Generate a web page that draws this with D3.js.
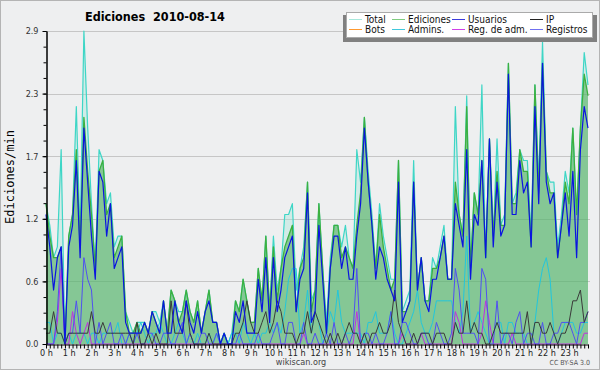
<!DOCTYPE html>
<html lang="es">
<head>
<meta charset="utf-8">
<title>Ediciones 2010-08-14</title>
<script src="https://cdn.jsdelivr.net/npm/d3@7"></script>
<style type="text/css">
  body { margin: 0; background: #fff; }
  svg { display: block; }
  text { font-family: "DejaVu Sans Condensed", "DejaVu Sans", sans-serif; }
</style>
</head>
<body>
<script type="text/javascript">
// Values per 10 minutes (edits/min), 144 points = 24 h
var hourLabels = ["0 h","1 h","2 h","3 h","4 h","5 h","6 h","7 h","8 h","9 h","10 h","11 h",
                  "12 h","13 h","14 h","15 h","16 h","17 h","18 h","19 h","20 h","21 h","22 h","23 h"];
var yTicks = [0, 0.58, 1.16, 1.74, 2.32, 2.9];
var yLabels = ["0.0", "0.6", "1.2", "1.7", "2.3", "2.9"];

var total = [
  1.3,1.1,0.8,0.9,1.8,0.0,1.0,1.2,2.2,1.0,2.9,2.0,
  1.3,0.7,1.8,1.7,1.3,1.4,0.9,1.0,1.0,0.3,0.2,0.1,
  0.2,0.2,0.2,0.1,0.3,0.3,0.2,0.4,0.1,0.5,0.4,0.3,
  0.3,0.5,0.3,0.2,0.4,0.1,0.3,0.5,0.2,0.2,0.0,0.1,
  0.0,0.1,0.4,0.3,0.6,0.4,0.2,0.2,0.7,0.4,1.0,0.3,
  1.0,0.5,0.7,1.2,1.2,1.3,0.5,0.7,0.9,1.5,0.4,0.5,
  1.3,0.7,0.2,0.8,1.1,1.1,0.9,1.1,0.8,0.7,1.8,1.5,
  2.1,1.6,1.2,0.7,1.3,1.0,0.8,0.6,0.6,1.7,0.3,0.4,
  0.5,1.7,0.5,0.8,0.4,0.4,0.8,0.7,0.9,1.1,0.6,0.6,
  2.2,1.2,1.0,2.3,0.7,1.4,1.2,2.4,0.8,1.9,1.0,1.9,
  1.1,1.2,2.6,1.3,1.4,1.8,1.7,1.7,1.0,2.4,1.5,2.8,
  1.6,1.5,1.5,0.9,1.2,1.6,1.4,2.0,1.2,2.0,2.7,2.4];
var ediciones = [
  1.3,1.0,0.8,0.8,0.9,0.0,1.0,1.2,1.8,0.9,2.1,1.6,
  1.2,0.7,1.6,1.7,1.2,1.3,0.8,0.9,1.0,0.3,0.1,0.1,
  0.2,0.1,0.2,0.1,0.3,0.2,0.1,0.4,0.1,0.5,0.4,0.2,
  0.3,0.5,0.3,0.2,0.4,0.1,0.3,0.5,0.2,0.2,0.0,0.1,
  0.0,0.0,0.4,0.3,0.6,0.4,0.2,0.2,0.7,0.4,1.0,0.3,
  0.9,0.4,0.7,0.9,1.0,1.1,0.3,0.7,0.8,1.5,0.3,0.5,
  1.3,0.7,0.1,0.7,1.1,1.1,0.8,0.9,0.8,0.7,1.1,1.4,
  2.1,1.5,1.1,0.7,1.2,0.9,0.7,0.5,0.6,1.7,0.3,0.3,
  0.4,1.5,0.5,0.8,0.4,0.4,0.7,0.7,0.8,1.0,0.6,0.6,
  1.5,1.2,1.0,2.2,0.7,1.4,1.2,1.7,0.8,1.9,1.0,1.6,
  1.1,1.1,2.6,1.3,1.3,1.8,1.6,1.6,0.9,2.4,1.4,2.6,
  1.6,1.4,1.4,0.8,1.1,1.5,1.3,2.0,1.2,2.0,2.5,2.3];
var usuarios = [
  1.2,0.9,0.5,0.8,0.9,0.0,0.9,1.1,1.7,0.8,2.0,1.5,
  1.0,0.6,1.6,1.5,1.0,1.3,0.7,0.8,0.9,0.2,0.1,0.1,
  0.1,0.1,0.2,0.1,0.3,0.2,0.1,0.4,0.1,0.1,0.4,0.2,
  0.1,0.4,0.2,0.1,0.3,0.1,0.3,0.4,0.2,0.2,0.0,0.1,
  0.0,0.0,0.3,0.2,0.4,0.1,0.1,0.1,0.6,0.3,0.8,0.2,
  0.8,0.3,0.5,0.8,0.9,1.0,0.3,0.6,0.7,1.4,0.2,0.3,
  1.1,0.6,0.1,0.7,1.0,1.0,0.7,0.9,0.6,0.6,1.0,1.3,
  2.0,1.5,1.1,0.6,0.9,0.8,0.6,0.5,0.4,1.5,0.2,0.3,
  0.4,1.5,0.5,0.8,0.4,0.3,0.6,0.6,0.8,1.0,0.6,0.6,
  1.3,1.1,0.9,1.8,0.6,1.2,1.1,1.7,0.8,1.9,0.9,1.5,
  1.0,1.1,2.5,1.2,1.2,1.7,1.4,1.5,0.9,2.2,1.3,2.6,
  1.5,1.3,1.4,0.8,1.1,1.4,1.0,1.6,0.8,1.8,2.2,2.0];
var ip = [
  0.1,0.1,0.3,0.1,0.1,0.0,0.1,0.1,0.1,0.1,0.1,0.1,
  0.3,0.1,0.1,0.2,0.1,0.1,0.1,0.1,0.1,0.1,0.1,0.0,
  0.2,0.0,0.0,0.1,0.0,0.1,0.0,0.0,0.0,0.4,0.1,0.1,
  0.1,0.4,0.1,0.0,0.0,0.0,0.0,0.1,0.0,0.0,0.0,0.0,
  0.0,0.0,0.1,0.1,0.2,0.4,0.2,0.1,0.1,0.2,0.3,0.1,
  0.2,0.4,0.3,0.1,0.1,0.1,0.0,0.1,0.1,0.3,0.1,0.3,
  0.2,0.1,0.0,0.1,0.0,0.1,0.0,0.1,0.2,0.1,0.1,0.0,
  0.1,0.0,0.1,0.1,0.2,0.1,0.1,0.2,0.5,0.2,0.1,0.0,
  0.0,0.1,0.0,0.1,0.1,0.1,0.0,0.1,0.1,0.1,0.0,0.0,
  0.2,0.1,0.1,0.4,0.1,0.2,0.1,0.1,0.0,0.0,0.1,0.2,
  0.1,0.1,0.1,0.1,0.1,0.1,0.1,0.3,0.0,0.2,0.2,0.1,
  0.1,0.2,0.1,0.0,0.1,0.1,0.2,0.4,0.4,0.5,0.2,0.3];
var admins = [
  0.2,0.2,0.0,0.1,0.1,0.0,0.1,0.0,0.1,0.1,0.1,0.0,
  0.1,0.1,0.0,0.1,0.1,0.1,0.1,0.2,0.0,0.0,0.1,0.0,
  0.1,0.2,0.1,0.0,0.1,0.1,0.2,0.1,0.0,0.0,0.1,0.2,
  0.1,0.0,0.1,0.0,0.1,0.0,0.0,0.1,0.0,0.1,0.0,0.1,
  0.0,0.1,0.1,0.0,0.2,0.1,0.0,0.1,0.0,0.1,0.1,0.2,
  0.1,0.2,0.1,0.3,0.6,0.7,0.7,0.1,0.2,0.5,0.1,0.3,
  0.2,0.0,0.1,0.3,0.2,0.5,0.2,0.1,0.1,0.1,0.1,0.1,
  0.0,0.2,0.2,0.3,0.1,0.1,0.1,0.3,0.1,0.0,0.0,0.1,
  0.2,0.3,0.5,0.2,0.1,0.1,0.2,0.4,0.4,0.4,0.4,0.4,
  0.2,0.1,0.3,1.0,0.1,0.2,0.3,0.2,0.1,0.0,0.1,0.2,
  0.2,0.0,0.2,0.2,0.1,0.1,0.1,0.0,0.0,0.2,0.5,0.7,
  0.8,0.6,0.1,0.0,0.1,0.2,0.2,0.2,0.1,0.1,0.2,0.2];
var regAdm = [
  0.0,0.0,0.0,0.2,0.7,0.0,0.0,0.3,0.1,0.0,0.1,0.2,
  0.0,0.0,0.0,0.0,0.0,0.0,0.0,0.0,0.0,0.0,0.0,0.0,
  0.0,0.0,0.0,0.0,0.0,0.0,0.0,0.0,0.0,0.0,0.0,0.0,
  0.0,0.0,0.0,0.0,0.0,0.0,0.0,0.0,0.0,0.0,0.0,0.0,
  0.0,0.0,0.0,0.0,0.0,0.0,0.0,0.0,0.0,0.0,0.0,0.0,
  0.0,0.0,0.0,0.0,0.0,0.0,0.0,0.0,0.1,0.0,0.0,0.0,
  0.0,0.0,0.0,0.0,0.0,0.0,0.0,0.0,0.0,0.0,0.3,0.0,
  0.0,0.0,0.0,0.0,0.0,0.0,0.0,0.0,0.0,0.0,0.1,0.0,
  0.0,0.0,0.0,0.1,0.0,0.0,0.0,0.0,0.0,0.0,0.0,0.0,
  0.3,0.2,0.0,0.0,0.0,0.0,0.0,0.1,0.4,0.2,0.0,0.0,
  0.0,0.0,0.0,0.1,0.0,0.0,0.0,0.0,0.0,0.0,0.0,0.0,
  0.0,0.0,0.0,0.0,0.0,0.0,0.0,0.0,0.0,0.0,0.1,0.1];
var registros = [
  0.0,0.0,0.0,0.3,0.9,0.0,0.1,0.1,0.4,0.1,0.8,0.6,
  0.5,0.0,0.2,0.0,0.1,0.2,0.0,0.0,0.1,0.0,0.1,0.0,
  0.1,0.0,0.0,0.1,0.1,0.0,0.0,0.1,0.1,0.0,0.0,0.1,
  0.2,0.0,0.1,0.0,0.0,0.1,0.1,0.0,0.0,0.1,0.0,0.0,
  0.0,0.0,0.0,0.1,0.0,0.0,0.0,0.0,0.1,0.0,0.0,0.0,
  0.1,0.2,0.0,0.0,0.2,0.2,0.0,0.0,0.2,0.0,0.0,0.1,
  0.0,0.0,0.1,0.0,0.2,0.0,0.0,0.1,0.0,0.1,0.7,0.0,
  0.1,0.1,0.0,0.1,0.0,0.0,0.1,0.3,0.0,0.0,0.2,0.2,
  0.1,0.0,0.0,0.1,0.1,0.0,0.0,0.2,0.1,0.0,0.0,0.1,
  0.7,0.5,0.1,0.1,0.1,0.1,0.0,0.7,0.6,0.0,0.0,0.4,
  0.0,0.1,0.1,0.0,0.2,0.3,0.0,0.1,0.1,0.0,0.0,0.2,
  0.0,0.0,0.1,0.1,0.2,0.2,0.2,0.1,0.0,0.2,0.2,0.3];

// legend, 2 rows x 4 columns
var legendNames = ["Total", "Ediciones", "Usuarios", "IP", "Bots", "Admins.", "Reg. de adm.", "Registros"];
var legendColors = ["#a8e8dc", "#80cc80", "#3c3cdc", "#222222", "#ff9a30", "#40c8dc", "#d040e8", "#7070f0"];

var width = 600;
var height = 370;

var x = d3.scaleLinear().domain([0, total.length - 1]).range([46, 588]);
var y = d3.scaleLinear().domain([0, 2.9]).range([344, 31]);

var svg = d3.select("body").append("svg")
    .attr("width", width)
    .attr("height", height);

// background + frame
svg.append("rect")
    .attr("x", 0.5).attr("y", 0.5)
    .attr("width", width - 1).attr("height", height - 1)
    .attr("fill", "#eeeff0")
    .attr("stroke", "#b4b4b4");

// grid
svg.append("g").selectAll("line")
    .data(yTicks.slice(1))
    .enter().append("line")
    .attr("x1", 46).attr("x2", 590)
    .attr("y1", function(d) { return Math.round(y(d)) + 0.5; })
    .attr("y2", function(d) { return Math.round(y(d)) + 0.5; })
    .attr("stroke", "#c6c6c6");

var area = d3.area()
    .x(function(d, i) { return x(i); })
    .y0(y(0))
    .y1(function(d) { return y(d); });
var line = d3.line()
    .x(function(d, i) { return x(i); })
    .y(function(d) { return y(d); });

// translucent fills so the grid shows through
svg.append("path").datum(total).attr("d", area)
    .attr("fill", "#9fe6d6").attr("fill-opacity", 0.35);
svg.append("path").datum(ediciones).attr("d", area)
    .attr("fill", "#38a344").attr("fill-opacity", 0.5);

// lines, back to front
var series = [
    {data: total, color: "#3ed6c6", w: 1.2},
    {data: ediciones, color: "#3cb040", w: 1.3},
    {data: admins, color: "#22c6dc", w: 1},
    {data: regAdm, color: "#c030e0", w: 1},
    {data: registros, color: "#5050f0", w: 1},
    {data: ip, color: "#3a3a3a", w: 1},
    {data: usuarios, color: "#0a14e0", w: 1.2}
];
series.forEach(function(s) {
    svg.append("path").datum(s.data)
        .attr("d", line)
        .attr("fill", "none")
        .attr("stroke", s.color)
        .attr("stroke-width", s.w)
        .attr("stroke-linejoin", "round");
});

// y axis
var yAxis = d3.axisLeft(y)
    .tickValues(yTicks)
    .tickFormat(function(d, i) { return yLabels[i]; })
    .tickSize(4)
    .tickSizeOuter(0);
var minor = d3.range(0, 21).map(function(k) { return k * 2.9 / 20; });
svg.append("g")
    .attr("transform", "translate(46.5,0)")
    .call(d3.axisLeft(y).tickValues(minor).tickFormat("").tickSize(3).tickSizeOuter(0));
var gy = svg.append("g")
    .attr("transform", "translate(46.5,0)")
    .call(yAxis);
gy.selectAll("text").attr("font-size", 9).attr("fill", "#333").attr("dx", -1);

// x axis
var xAxis = d3.axisBottom(x)
    .tickValues(d3.range(total.length))
    .tickFormat(function(i) { return i % 6 === 0 ? hourLabels[i / 6] : ""; })
    .tickSize(4)
    .tickSizeOuter(0);
var gx = svg.append("g")
    .attr("transform", "translate(0,344.5)")
    .call(xAxis);
gx.selectAll("text").attr("font-size", 9).attr("fill", "#222").attr("dy", "0.55em");
svg.selectAll(".domain").attr("stroke", "#000");
svg.selectAll(".tick line").attr("stroke", "#000");

// title
svg.append("text")
    .attr("x", 85).attr("y", 21)
    .style("white-space", "pre")
    .attr("font-size", 12.5)
    .attr("font-weight", "bold")
    .text("Ediciones  2010-08-14");

// y label
svg.append("text")
    .attr("transform", "translate(14,177) rotate(-90)")
    .attr("text-anchor", "middle")
    .style("font-family", "'DejaVu Sans Mono', monospace")
    .attr("font-size", 12)
    .text("Ediciones/min");

// legend
svg.append("rect").attr("x", 343).attr("y", 15).attr("width", 254).attr("height", 27).attr("fill", "#808080");
svg.append("rect").attr("x", 346.5).attr("y", 12.5).attr("width", 246).attr("height", 25)
    .attr("fill", "#fff").attr("stroke", "#aaa");
var colX = [349, 392, 452, 530];
var leg = svg.append("g").selectAll("g")
    .data(legendNames)
    .enter().append("g")
    .attr("transform", function(d, i) {
        return "translate(" + colX[i % 4] + "," + (i < 4 ? 19.5 : 29.5) + ")";
    });
leg.append("line")
    .attr("x1", 0).attr("x2", 13)
    .attr("stroke", function(d, i) { return legendColors[i]; });
leg.append("text")
    .attr("x", 16).attr("dy", "0.35em")
    .attr("font-size", 10)
    .attr("fill", "#111")
    .text(function(d) { return d; });

// credits
svg.append("text")
    .attr("x", 301).attr("y", 365)
    .attr("text-anchor", "middle")
    .attr("font-size", 9)
    .attr("fill", "#444")
    .text("wikiscan.org");
svg.append("text")
    .attr("x", 590).attr("y", 365)
    .attr("text-anchor", "end")
    .attr("font-size", 7)
    .attr("fill", "#555")
    .text("CC BY-SA 3.0");
</script>
</body>
</html>
